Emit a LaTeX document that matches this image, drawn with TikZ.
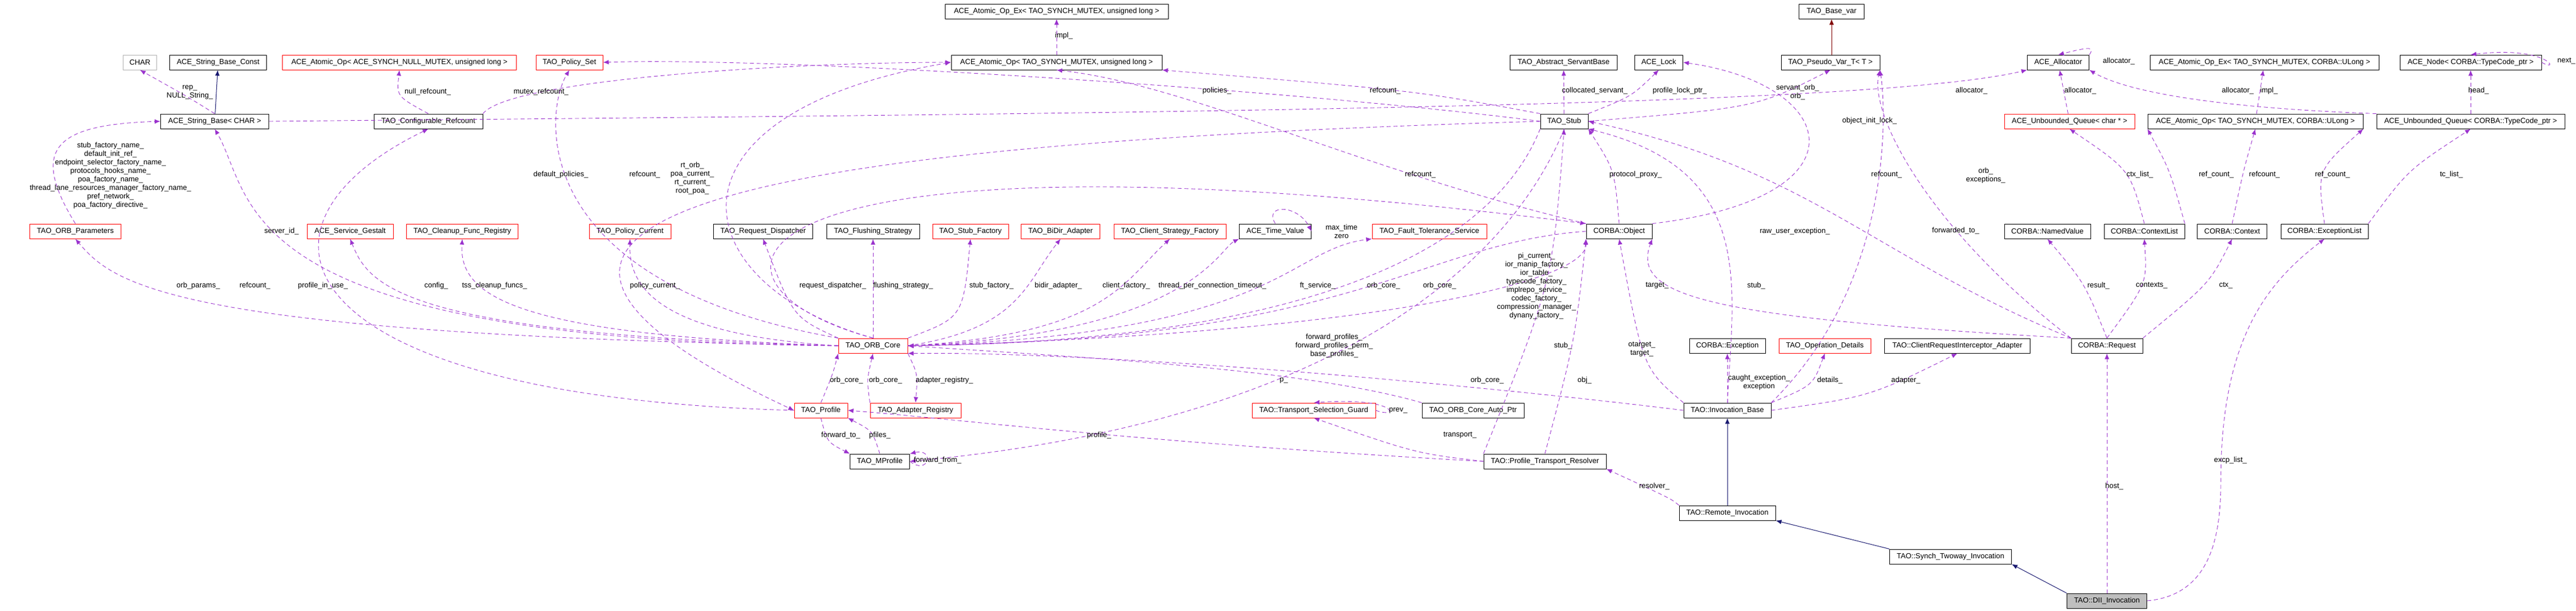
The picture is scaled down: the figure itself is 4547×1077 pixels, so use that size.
\documentclass[tikz,border=0pt]{standalone}
\usepackage{fontspec}
\setmainfont{Liberation Sans}
\usetikzlibrary{arrows.meta}
\definecolor{uses}{HTML}{9A32CD}
\definecolor{inh}{HTML}{191970}
\tikzset{
 bx/.style={draw=black,line width=1pt,minimum height=26pt,inner sep=2pt,font=\fontsize{13}{15}\selectfont,fill=white},
 rb/.style={bx,draw=red},
 gb/.style={bx,draw=gray!60},
 db/.style={bx,fill=gray!50},
 us/.style={draw=uses,dashed,dash pattern=on 7pt off 5pt,line width=0.9pt,-{Latex[length=10pt,width=8pt]}},
 ih/.style={draw=inh,line width=1pt,-{Latex[length=10pt,width=8pt]}},
 lb/.style={font=\fontsize{13}{15}\selectfont,align=center,inner sep=1pt}
}
\begin{document}
\begin{tikzpicture}[x=1pt,y=-1pt]
\useasboundingbox (0,0) rectangle (4547,1077);
% nodes
\node[gb,minimum width=59] (char) at (247,110) {CHAR};
\node[bx,minimum width=171] (sbc) at (385,110) {ACE\_String\_Base\_Const};
\node[rb,minimum width=413] (aonull) at (705,110) {ACE\_Atomic\_Op< ACE\_SYNCH\_NULL\_MUTEX, unsigned long >};
\node[rb,minimum width=118] (pset) at (1005,110) {TAO\_Policy\_Set};
\node[bx,minimum width=394] (aoex) at (1865,20) {ACE\_Atomic\_Op\_Ex< TAO\_SYNCH\_MUTEX, unsigned long >};
\node[bx,minimum width=372] (ao) at (1865,110) {ACE\_Atomic\_Op< TAO\_SYNCH\_MUTEX, unsigned long >};
\node[bx,minimum width=189] (asb) at (2760,110) {TAO\_Abstract\_ServantBase};
\node[bx,minimum width=85] (lock) at (2928,110) {ACE\_Lock};
\node[bx,minimum width=115] (basevar) at (3233,20) {TAO\_Base\_var};
\node[bx,minimum width=174] (pvar) at (3231,110) {TAO\_Pseudo\_Var\_T< T >};
\node[bx,minimum width=109] (alloc) at (3633,110) {ACE\_Allocator};
\node[bx,minimum width=404] (aoexul) at (3997,110) {ACE\_Atomic\_Op\_Ex< TAO\_SYNCH\_MUTEX, CORBA::ULong >};
\node[bx,minimum width=250] (anode) at (4361,110) {ACE\_Node< CORBA::TypeCode\_ptr >};
\node[bx,minimum width=191] (sb) at (379,214) {ACE\_String\_Base< CHAR >};
\node[bx,minimum width=192] (cref) at (756,214) {TAO\_Configurable\_Refcount};
\node[bx,minimum width=84] (stub) at (2761,214) {TAO\_Stub};
\node[rb,minimum width=230] (uqc) at (3653,214) {ACE\_Unbounded\_Queue< char * >};
\node[bx,minimum width=380] (aoul) at (3981,214) {ACE\_Atomic\_Op< TAO\_SYNCH\_MUTEX, CORBA::ULong >};
\node[bx,minimum width=332] (uqt) at (4361,214) {ACE\_Unbounded\_Queue< CORBA::TypeCode\_ptr >};
\node[rb,minimum width=161] (orbp) at (133,408) {TAO\_ORB\_Parameters};
\node[rb,minimum width=152] (gest) at (618,408) {ACE\_Service\_Gestalt};
\node[rb,minimum width=197] (cfr) at (816,408) {TAO\_Cleanup\_Func\_Registry};
\node[rb,minimum width=144] (pcur) at (1112,408) {TAO\_Policy\_Current};
\node[bx,minimum width=175] (rdisp) at (1347,408) {TAO\_Request\_Dispatcher};
\node[bx,minimum width=164] (flush) at (1541,408) {TAO\_Flushing\_Strategy};
\node[rb,minimum width=134] (sfac) at (1713,408) {TAO\_Stub\_Factory};
\node[rb,minimum width=139] (bidir) at (1872,408) {TAO\_BiDir\_Adapter};
\node[rb,minimum width=198] (csf) at (2065,408) {TAO\_Client\_Strategy\_Factory};
\node[bx,minimum width=127] (tv) at (2251,408) {ACE\_Time\_Value};
\node[rb,minimum width=202] (ft) at (2523,408) {TAO\_Fault\_Tolerance\_Service};
\node[bx,minimum width=116] (obj) at (2858,408) {CORBA::Object};
\node[bx,minimum width=152] (nv) at (3614,408) {CORBA::NamedValue};
\node[bx,minimum width=142] (cl) at (3785,408) {CORBA::ContextList};
\node[bx,minimum width=123] (ctx) at (3940,408) {CORBA::Context};
\node[bx,minimum width=154] (el) at (4103,408) {CORBA::ExceptionList};
\node[rb,minimum width=122] (core) at (1541,610) {TAO\_ORB\_Core};
\node[bx,minimum width=134] (exc) at (3049,610) {CORBA::Exception};
\node[rb,minimum width=162] (opd) at (3221,610) {TAO\_Operation\_Details};
\node[bx,minimum width=257] (cria) at (3455,610) {TAO::ClientRequestInterceptor\_Adapter};
\node[bx,minimum width=126] (req) at (3719,610) {CORBA::Request};
\node[rb,minimum width=94] (prof) at (1449,724) {TAO\_Profile};
\node[rb,minimum width=160] (areg) at (1616,724) {TAO\_Adapter\_Registry};
\node[rb,minimum width=218] (tsg) at (2319,724) {TAO::Transport\_Selection\_Guard};
\node[bx,minimum width=180] (cap) at (2600,724) {TAO\_ORB\_Core\_Auto\_Ptr};
\node[bx,minimum width=154] (ib) at (3049,724) {TAO::Invocation\_Base};
\node[bx,minimum width=105] (mprof) at (1553,814) {TAO\_MProfile};
\node[bx,minimum width=216] (ptr) at (2727,814) {TAO::Profile\_Transport\_Resolver};
\node[bx,minimum width=170] (ri) at (3049,905) {TAO::Remote\_Invocation};
\node[bx,minimum width=215] (sti) at (3443,982) {TAO::Synch\_Twoway\_Invocation};
\node[db,minimum width=141] (dii) at (3719,1060) {TAO::DII\_Invocation};
% inheritance
\draw[ih] (sb) -- (sbc);
\draw[ih,draw=red!50!black] (pvar.north -| basevar) -- (basevar);
\draw[ih] (ri) -- (ib);
\draw[ih] (sti.north west) -- (ri.south east);
\draw[ih] (dii.north west) -- (sti.south east);
% uses
\draw[us] (sb.north) .. controls (330,170) .. (char.south);
\draw[us] (cref.north) .. controls (700,170) .. (aonull.south);
\draw[us] (cref.north east) .. controls (900,140) and (1400,110) .. (ao.west);
\draw[us] (core.north west) .. controls (930,500) and (960,200) .. (pset.south);
\draw[us] (stub.west) .. controls (2300,160) and (1400,100) .. (pset.east);
\draw[us] (ao) -- (aoex);
\draw[us] (stub.north west) .. controls (2500,160) .. (ao.south east);
\draw[us] (stub) -- (asb);
\draw[us] (stub.north east) .. controls (2880,170) .. (lock.south);
\draw[us] (stub.east) .. controls (3100,190) .. (pvar.south);
\draw[us] (obj.north east) .. controls (3300,350) and (3250,150) .. (lock.east);
\draw[us] (req.north west) .. controls (3400,400) and (3300,200) .. (pvar.south east);
\draw[us] (ib.north east) .. controls (3340,500) and (3330,200) .. (pvar.south east);
\draw[us] (uqc) -- (alloc);
\draw[us] (sb.east) .. controls (2000,200) and (3300,190) .. (alloc.south west);
\draw[us] (alloc.north east) .. controls (3700,80) and (3680,85) .. (alloc.north);
\draw[us] (uqt.north west) .. controls (3900,190) and (3750,160) .. (alloc.south east);
\draw[us] (aoul) -- (aoexul);
\draw[us] (uqt) -- (anode);
\draw[us] (anode.east) .. controls (4520,130) and (4500,80) .. (anode.north);
\draw[us] (cl.north) .. controls (3760,300) .. (uqc.south);
\draw[us] (cl.north east) .. controls (3830,300) .. (aoul.south west);
\draw[us] (ctx.north) .. controls (3960,300) .. (aoul.south);
\draw[us] (el.north) .. controls (4090,300) .. (aoul.south east);
\draw[us] (el.north east) .. controls (4250,300) .. (uqt.south);
\draw[us] (req.north) .. controls (3680,500) .. (nv.south);
\draw[us] (req.north) .. controls (3790,500) .. (cl.south);
\draw[us] (req.north east) .. controls (3900,500) .. (ctx.south);
\draw[us] (dii) -- (req);
\draw[us] (dii.east) .. controls (3900,1050) and (3920,950) .. (3920,850) .. controls (3920,600) and (4000,500) .. (el.south);
\draw[us] (ib) -- (exc);
\draw[us] (ib.north east) .. controls (3200,680) .. (opd.south);
\draw[us] (ib.east) .. controls (3300,700) .. (cria.south);
\draw[us] (ib.north west) .. controls (2900,650) .. (obj.south);
\draw[us] (req.north west) .. controls (3000,560) and (2880,520) .. (obj.south east);
\draw[us] (ib.north) .. controls (3060,500) and (3100,300) .. (stub.south east);
\draw[us] (req.north west) .. controls (3300,450) and (3200,300) .. (stub.east);
\draw[us] (ptr.north) .. controls (2780,600) .. (obj.south west);
\draw[us] (ptr.north west) .. controls (2740,500) .. (stub.south);
\draw[us] (ri.north west) .. controls (2950,880) .. (ptr.south east);
\draw[us] (ptr.west) .. controls (2500,800) .. (tsg.south);
\draw[us] (tsg.east) .. controls (2470,740) and (2470,700) .. (tsg.north);
\draw[us] (ptr.west) .. controls (2000,780) and (1700,740) .. (prof.east);
\draw[us] (mprof.east) .. controls (1640,840) and (1650,790) .. (mprof.north east);
\draw[us] (prof.south) .. controls (1460,780) .. (mprof.north west);
\draw[us] (mprof.north) .. controls (1540,760) .. (prof.south east);
\draw[us] (prof.north) .. controls (1470,660) .. (core.south west);
\draw[us] (areg.north west) .. controls (1530,670) .. (core.south);
\draw[us] (core.south east) .. controls (1620,660) .. (areg.north);
\draw[us] (core.west) .. controls (300,590) and (200,500) .. (orbp.south);
\draw[us] (prof.west) .. controls (500,700) and (400,400) .. (cref.south);
\draw[us] (core.west) .. controls (700,590) and (650,500) .. (gest.south);
\draw[us] (core.west) .. controls (900,590) and (810,520) .. (cfr.south);
\draw[us] (core.west) .. controls (1150,590) and (1110,500) .. (pcur.south);
\draw[us] (core.north west) .. controls (1400,560) .. (rdisp.south);
\draw[us] (core) -- (flush);
\draw[us] (core.north east) .. controls (1700,560) .. (sfac.south);
\draw[us] (core.east) .. controls (1800,580) and (1810,500) .. (bidir.south);
\draw[us] (core.east) .. controls (1950,590) and (1980,500) .. (csf.south);
\draw[us] (core.east) .. controls (2100,590) and (2150,440) .. (tv.south west);
\draw[us] (tv.north) .. controls (2230,360) and (2290,360) .. (tv.east);
\draw[us] (core.east) .. controls (2260,590) and (2270,440) .. (ft.south west);
\draw[us] (stub.south west) .. controls (2650,400) and (2400,600) .. (core.east);
\draw[us] (obj.west) .. controls (2500,430) and (2400,600) .. (core.east);
\draw[us] (core.east) .. controls (2400,590) and (2800,500) .. (obj.south west);
\draw[us] (ib.west) .. controls (2700,690) and (2000,620) .. (core.south east);
\draw[us] (cap.north west) .. controls (2300,650) and (1900,630) .. (core.east);
\draw[us] (core.north) .. controls (1200,500) and (1150,200) .. (ao.west);
\draw[us] (core.north) .. controls (1180,500) and (1250,200) .. (obj.north west);
\draw[us] (obj.north west) .. controls (2400,300) and (2100,150) .. (ao.south);
\draw[us] (obj.north) .. controls (2850,300) .. (stub.south east);
\draw[us] (orbp.north) .. controls (50,260) and (100,220) .. (sb.west);
\draw[us] (core.west) .. controls (400,600) and (450,350) .. (sb.south);
\draw[us] (stub.west) .. controls (1500,250) and (600,350) .. (prof.west);
\draw[us] (stub.south) .. controls (2650,500) and (2300,750) .. (mprof.east);
% labels
\node[lb] (l1) at (335,163) {rep\_\\NULL\_String\_};
\node[lb] (l2) at (755,162) {null\_refcount\_};
\node[lb] (l3) at (955,162) {mutex\_refcount\_};
\node[lb] (l4) at (990,308) {default\_policies\_};
\node[lb] (l5) at (2148,160) {policies\_};
\node[lb] (l6) at (1878,63) {impl\_};
\node[lb] (l7) at (2445,160) {refcount\_};
\node[lb] (l8) at (2815,160) {collocated\_servant\_};
\node[lb] (l9) at (2965,160) {profile\_lock\_ptr\_};
\node[lb] (l10) at (3173,163) {servant\_orb\_\\orb\_};
\node[lb] (l11) at (3300,213) {object\_init\_lock\_};
\node[lb] (l12) at (3330,308) {refcount\_};
\node[lb] (l13) at (3505,310) {orb\_\\exceptions\_};
\node[lb] (l14) at (3452,407) {forwarded\_to\_};
\node[lb] (l15) at (3480,160) {allocator\_};
\node[lb] (l16) at (3672,160) {allocator\_};
\node[lb] (l17) at (3740,108) {allocator\_};
\node[lb] (l18) at (3950,160) {allocator\_};
\node[lb] (l19) at (4005,160) {impl\_};
\node[lb] (l20) at (4375,160) {head\_};
\node[lb] (l21) at (4530,108) {next\_};
\node[lb] (l22) at (3777,308) {ctx\_list\_};
\node[lb] (l23) at (3912,308) {ref\_count\_};
\node[lb] (l24) at (3997,308) {refcount\_};
\node[lb] (l25) at (4117,308) {ref\_count\_};
\node[lb] (l26) at (4327,308) {tc\_list\_};
\node[lb] (l27) at (3704,504) {result\_};
\node[lb] (l28) at (3798,504) {contexts\_};
\node[lb] (l29) at (3929,504) {ctx\_};
\node[lb] (l30) at (3732,858) {host\_};
\node[lb] (l31) at (3937,812) {excp\_list\_};
\node[lb] (l32) at (3105,675) {caught\_exception\_\\exception};
\node[lb] (l33) at (3230,671) {details\_};
\node[lb] (l34) at (3364,671) {adapter\_};
\node[lb] (l35) at (2898,616) {otarget\_\\target\_};
\node[lb] (l36) at (2925,504) {target\_};
\node[lb] (l37) at (3100,504) {stub\_};
\node[lb] (l38) at (3168,408) {raw\_user\_exception\_};
\node[lb] (l39) at (2797,671) {obj\_};
\node[lb] (l40) at (2759,610) {stub\_};
\node[lb] (l41) at (2920,858) {resolver\_};
\node[lb] (l42) at (2577,768) {transport\_};
\node[lb] (l43) at (2468,724) {prev\_};
\node[lb] (l44) at (1940,768) {profile\_};
\node[lb] (l45) at (1655,812) {forward\_from\_};
\node[lb] (l46) at (1484,768) {forward\_to\_};
\node[lb] (l47) at (1553,768) {pfiles\_};
\node[lb] (l48) at (1494,671) {orb\_core\_};
\node[lb] (l49) at (1563,671) {orb\_core\_};
\node[lb] (l50) at (1667,671) {adapter\_registry\_};
\node[lb] (l51) at (350,504) {orb\_params\_};
\node[lb] (l52) at (450,504) {refcount\_};
\node[lb] (l53) at (570,504) {profile\_in\_use\_};
\node[lb] (l54) at (770,504) {config\_};
\node[lb] (l55) at (873,504) {tss\_cleanup\_funcs\_};
\node[lb] (l56) at (1156,504) {policy\_current\_};
\node[lb] (l57) at (1470,504) {request\_dispatcher\_};
\node[lb] (l58) at (1594,504) {flushing\_strategy\_};
\node[lb] (l59) at (1750,504) {stub\_factory\_};
\node[lb] (l60) at (1868,504) {bidir\_adapter\_};
\node[lb] (l61) at (1988,504) {client\_factory\_};
\node[lb] (l62) at (2140,504) {thread\_per\_connection\_timeout\_};
\node[lb] (l63) at (2326,504) {ft\_service\_};
\node[lb] (l64) at (2442,504) {orb\_core\_};
\node[lb] (l65) at (2541,504) {orb\_core\_};
\node[lb] (l66) at (2712,505) {pi\_current\_\\ior\_manip\_factory\_\\ior\_table\_\\typecode\_factory\_\\implrepo\_service\_\\codec\_factory\_\\compression\_manager\_\\dynany\_factory\_};
\node[lb] (l67) at (2368,408) {max\_time\\zero};
\node[lb] (l68) at (195,310) {stub\_factory\_name\_\\default\_init\_ref\_\\endpoint\_selector\_factory\_name\_\\protocols\_hooks\_name\_\\poa\_factory\_name\_\\thread\_lane\_resources\_manager\_factory\_name\_\\pref\_network\_\\poa\_factory\_directive\_};
\node[lb] (l69) at (497,408) {server\_id\_};
\node[lb] (l70) at (2355,610) {forward\_profiles\_\\forward\_profiles\_perm\_\\base\_profiles\_};
\node[lb] (l71) at (2625,671) {orb\_core\_};
\node[lb] (l72) at (2266,671) {p\_};
\node[lb] (l73) at (1138,308) {refcount\_};
\node[lb] (l74) at (1222,315) {rt\_orb\_\\poa\_current\_\\rt\_current\_\\root\_poa\_};
\node[lb] (l75) at (2507,308) {refcount\_};
\node[lb] (l76) at (2887,308) {protocol\_proxy\_};
\end{tikzpicture}
\end{document}
